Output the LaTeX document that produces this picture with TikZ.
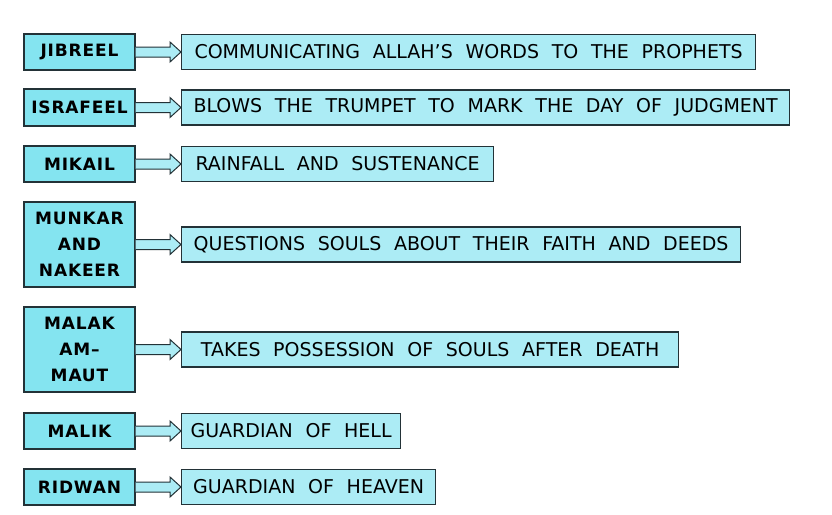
\documentclass[tikz,border=0pt]{standalone}
\usepackage{fontspec}
\setmainfont{DejaVu Sans}[WordSpace=2.1]
\usetikzlibrary{calc}
\definecolor{angelfill}{RGB}{132,228,240}
\definecolor{dutyfill}{RGB}{172,236,245}
\definecolor{edgeline}{RGB}{35,50,55}
\tikzset{
  angel/.style={draw=edgeline, line width=1.2pt, fill=angelfill, minimum width=111pt,
    align=center, inner sep=0pt, font=\fontsize{17}{26}\selectfont\bfseries\addfontfeature{LetterSpace=5}},
  duty/.style={draw=edgeline, line width=1.2pt, fill=dutyfill, anchor=west,
    minimum height=35pt, inner sep=0pt, font=\fontsize{19}{22}\selectfont},
  link/.style={draw=edgeline, line width=1pt, fill=dutyfill}
}
\newcommand{\linkarrow}[2]{%
  \draw[link] ($(#1.east)+(0,-5)$) -- ($(#2.west)+(-11,-5)$) -- ($(#2.west)+(-11,-10)$)
    -- (#2.west) -- ($(#2.west)+(-11,10)$) -- ($(#2.west)+(-11,5)$) -- ($(#1.east)+(0,5)$);}
\begin{document}
\begin{tikzpicture}[x=1pt,y=-1pt]
\fill[white] (0,0) rectangle (832,514);
\useasboundingbox (0,0) rectangle (832,514);
% angel name / duty / centre y / box height / duty width
\foreach \n/\who/\what/\y/\h/\w in {
  1/JIBREEL/{COMMUNICATING ALLAH'S WORDS TO THE PROPHETS}/52/36/574,
  2/ISRAFEEL/{BLOWS THE TRUMPET TO MARK THE DAY OF JUDGMENT}/107.5/37/608,
  3/MIKAIL/{RAINFALL AND SUSTENANCE}/164/36/312,
  4/{MUNKAR\\AND\\NAKEER}/{QUESTIONS SOULS ABOUT THEIR FAITH AND DEEDS}/244.5/85/559,
  5/{MALAK\\AM--\\MAUT}/{TAKES POSSESSION OF SOULS AFTER DEATH}/349.5/85/497,
  6/MALIK/{GUARDIAN OF HELL}/431/36/219,
  7/RIDWAN/{GUARDIAN OF HEAVEN}/487/36/254} {
\node[angel, minimum height=\h pt] (a\n) at (79.5,\y) {\who};
\node[duty, minimum width=\w pt] (d\n) at (181,\y) {\what};
\linkarrow{a\n}{d\n}
}
\end{tikzpicture}
\end{document}
